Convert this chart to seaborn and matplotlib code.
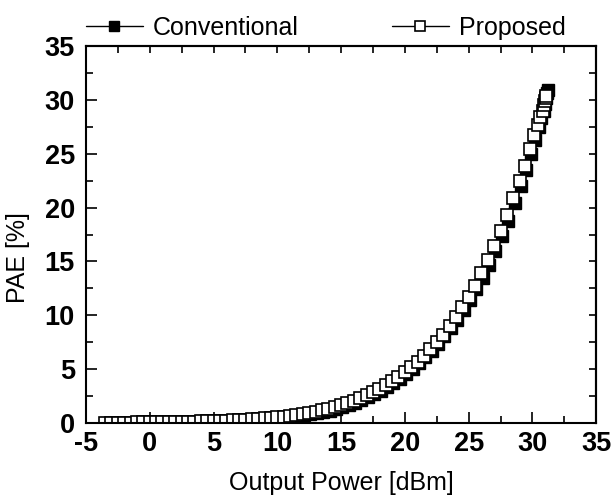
import matplotlib
matplotlib.use("Agg")
import matplotlib.pyplot as plt
import seaborn as sns
import pandas as pd
from matplotlib.ticker import MultipleLocator

# Data
prop_pout = [-3.5, -3.0, -2.5, -2.0, -1.5, -1.0, -0.5, 0.0, 0.5, 1.0, 1.5, 2.0, 2.5, 3.0, 3.5,
             4.0, 4.5, 5.0, 5.5, 6.0, 6.5, 7.0, 7.5, 8.0, 8.5, 9.0, 9.5, 10.0, 10.5, 11.0,
             11.5, 12.0, 12.5, 13.0, 13.5, 14.0, 14.5, 15.0, 15.5, 16.0, 16.5, 17.0, 17.5,
             18.0, 18.5, 19.0, 19.5, 20.0, 20.5, 21.0, 21.5, 22.0, 22.5, 23.0, 23.5, 24.0,
             24.5, 25.0, 25.5, 26.0, 26.5, 27.0, 27.5, 28.0, 28.5, 29.0, 29.4, 29.8, 30.1,
             30.4, 30.6, 30.8, 30.9, 31.0, 31.05, 31.1]
prop_pae = [0.02, 0.03, 0.03, 0.04, 0.04, 0.05, 0.05, 0.06, 0.07, 0.08, 0.09, 0.10, 0.11, 0.12, 0.13,
            0.15, 0.16, 0.18, 0.20, 0.22, 0.25, 0.28, 0.31, 0.35, 0.39, 0.43, 0.48, 0.54, 0.60, 0.67,
            0.75, 0.84, 0.94, 1.05, 1.18, 1.32, 1.48, 1.66, 1.86, 2.08, 2.33, 2.60, 2.90,
            3.20, 3.55, 3.90, 4.30, 4.70, 5.20, 5.70, 6.25, 6.85, 7.50, 8.20, 9.00, 9.85,
            10.75, 11.70, 12.75, 13.90, 15.10, 16.40, 17.80, 19.30, 20.90, 22.50, 23.90, 25.40, 26.70,
            27.70, 28.40, 29.00, 29.50, 29.90, 30.20, 30.40]

conv_pout = [-3.4, -2.9, -2.4, -1.9, -1.4, -0.9, -0.4, 0.1, 0.6, 1.1, 1.6, 2.1, 2.6, 3.1, 3.6,
             4.1, 4.6, 5.1, 5.6, 6.1, 6.6, 7.1, 7.6, 8.1, 8.6, 9.1, 9.6, 10.1, 10.6, 11.1,
             11.6, 12.1, 12.6, 13.1, 13.6, 14.1, 14.6, 15.1, 15.6, 16.1, 16.6, 17.1, 17.6,
             18.1, 18.6, 19.1, 19.6, 20.1, 20.6, 21.1, 21.6, 22.1, 22.6, 23.1, 23.6, 24.1,
             24.6, 25.1, 25.6, 26.1, 26.6, 27.1, 27.6, 28.1, 28.6, 29.1, 29.5, 29.9, 30.2,
             30.5, 30.7, 30.9, 31.0, 31.1, 31.15, 31.2]
conv_pae = [0.02, 0.03, 0.03, 0.04, 0.04, 0.05, 0.05, 0.06, 0.07, 0.08, 0.09, 0.10, 0.11, 0.12, 0.13,
            0.14, 0.15, 0.17, 0.19, 0.21, 0.23, 0.26, 0.29, 0.32, 0.35, 0.38, 0.42, 0.46, 0.51, 0.57,
            0.64, 0.72, 0.81, 0.91, 1.03, 1.16, 1.31, 1.48, 1.67, 1.89, 2.13, 2.40, 2.70,
            3.00, 3.35, 3.70, 4.10, 4.55, 5.05, 5.55, 6.10, 6.70, 7.35, 8.05, 8.80, 9.60,
            10.45, 11.40, 12.40, 13.50, 14.70, 16.00, 17.35, 18.80, 20.40, 22.00, 23.50, 25.00, 26.30,
            27.50, 28.30, 29.00, 29.60, 30.20, 30.60, 30.90]

series_names = ["Conventional", "Proposed"]
x_label = "Output Power [dBm]"
y_label = "PAE [%]"

sns.set_theme(style="white")
plt.rcParams["font.family"] = ["Liberation Sans", "DejaVu Sans"]
plt.rcParams["axes.unicode_minus"] = False
plt.rcParams["text.color"] = "black"
plt.rcParams["axes.labelcolor"] = "black"
plt.rcParams["xtick.color"] = "black"
plt.rcParams["ytick.color"] = "black"

fig = plt.figure(figsize=(6.14, 4.98), dpi=100)
ax = fig.add_axes([0.140, 0.1506, 0.831, 0.757])

conv_df = pd.DataFrame({"x": conv_pout, "y": conv_pae})
prop_df = pd.DataFrame({"x": prop_pout, "y": prop_pae})

sns.lineplot(data=conv_df, x="x", y="y", ax=ax, color="black", linewidth=1.0,
             marker="s", markersize=8, markerfacecolor="black", markeredgecolor="black",
             markeredgewidth=1.0, label=series_names[0], sort=False)
sns.lineplot(data=prop_df, x="x", y="y", ax=ax, color="black", linewidth=1.0,
             marker="s", markersize=8, markerfacecolor="white", markeredgecolor="black",
             markeredgewidth=1.2, label=series_names[1], sort=False)

ax.set_xlim(-5, 35)
ax.set_ylim(0, 35)
ax.xaxis.set_major_locator(MultipleLocator(5))
ax.xaxis.set_minor_locator(MultipleLocator(2.5))
ax.yaxis.set_major_locator(MultipleLocator(5))
ax.yaxis.set_minor_locator(MultipleLocator(2.5))
ax.tick_params(which="major", direction="in", length=8, width=1.2, color="black",
               bottom=True, left=True, top=False, right=False, labelsize=19.5)
ax.tick_params(which="minor", direction="in", length=5, width=1.2, color="black",
               bottom=True, left=True, top=False, right=False)
ax.tick_params(axis="x", which="major", pad=6)
ax.tick_params(axis="y", which="major", pad=8)
for lab in ax.get_xticklabels() + ax.get_yticklabels():
    lab.set_fontweight("bold")
    lab.set_color("black")

# top / right ticks at every 2.5 without labels
secx = ax.secondary_xaxis("top")
secx.xaxis.set_major_locator(MultipleLocator(2.5))
secx.tick_params(direction="in", length=5, width=1.2, labeltop=False, color="black")
secx.spines["top"].set_linewidth(1.5)
secx.spines["top"].set_color("black")
secy = ax.secondary_yaxis("right")
secy.yaxis.set_major_locator(MultipleLocator(2.5))
secy.tick_params(direction="in", length=5, width=1.2, labelright=False, color="black")
secy.spines["right"].set_linewidth(1.5)
secy.spines["right"].set_color("black")

for s in ax.spines.values():
    s.set_visible(True)
    s.set_color("black")
    s.set_linewidth(1.5)

ax.set_xlabel(x_label, fontsize=18, color="black")
ax.set_ylabel(y_label, fontsize=18, color="black")
ax.xaxis.set_label_coords(0.5, -0.128)
ax.yaxis.set_label_coords(-0.11, 0.44)

handles, labels = ax.get_legend_handles_labels()
leg = ax.legend(handles, labels, loc="center", bbox_to_anchor=(0.47, 1.048), ncol=2,
                frameon=False, fontsize=18, handlelength=2.3, handletextpad=0.4,
                columnspacing=3.7, borderaxespad=0.0, borderpad=0.0, markerscale=0.9)
for t in leg.get_texts():
    t.set_color("black")

fig.savefig("out.png", dpi=100)
